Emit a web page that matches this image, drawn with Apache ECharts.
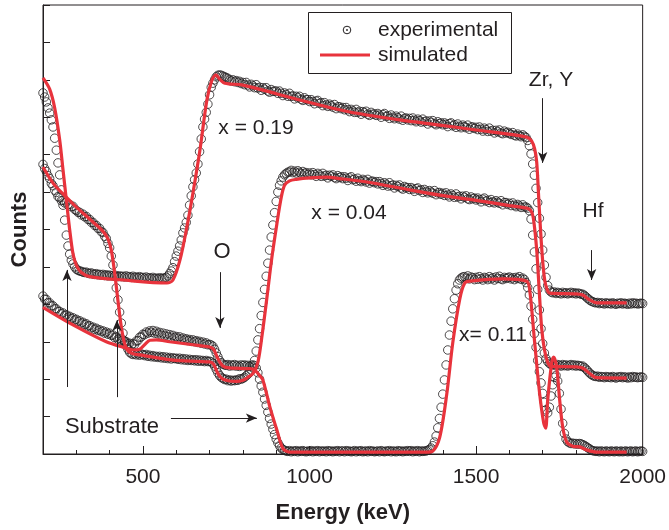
<!DOCTYPE html>
<html>
<head>
<meta charset="utf-8">
<script src="https://cdn.jsdelivr.net/npm/echarts@6/dist/echarts.min.js"></script>
<style>
  html, body { margin: 0; padding: 0; background: #fff; }
  #chart { width: 669px; height: 530px; }
</style>
</head>
<body>
<div id="chart"></div>
<script>
// energy channels: 200 keV to 2000 keV, 5 keV each
const channelStart = 200;
const channelStep = 5;
const xMajorTicks = [500, 1000, 1500, 2000];

// experimental counts (arbitrary units, offset per sample), one value per channel
const exp019 = [
  9.65, 9.54, 9.41, 9.25, 9.11, 8.93, 8.74, 8.44, 8.12, 7.78, 7.46, 7.06, 6.65, 6.25, 5.85, 5.56, 5.34, 5.18, 5.08, 5.00,
  4.94, 4.91, 4.89, 4.88, 4.86, 4.85, 4.86, 4.83, 4.82, 4.84, 4.81, 4.80, 4.82, 4.79, 4.80, 4.78, 4.80, 4.77, 4.79, 4.76,
  4.78, 4.76, 4.77, 4.75, 4.77, 4.74, 4.76, 4.74, 4.75, 4.73, 4.76, 4.73, 4.74, 4.72, 4.75, 4.72, 4.73, 4.71, 4.74, 4.71,
  4.72, 4.70, 4.73, 4.70, 4.71, 4.69, 4.72, 4.69, 4.70, 4.68, 4.71, 4.69, 4.70, 4.70, 4.72, 4.76, 4.82, 4.89, 4.98, 5.14,
  5.29, 5.42, 5.56, 5.72, 5.91, 6.04, 6.19, 6.38, 6.65, 6.90, 7.14, 7.33, 7.51, 7.75, 8.08, 8.42, 8.74, 8.95, 9.13, 9.35,
  9.60, 9.80, 9.91, 10.00, 10.08, 10.12, 10.13, 10.12, 10.10, 10.08, 10.06, 10.04, 10.00, 9.97, 10.00, 9.95, 9.98, 9.93, 9.96, 9.90,
  9.93, 9.87, 9.93, 9.86, 9.81, 9.88, 9.84, 9.79, 9.87, 9.78, 9.80, 9.72, 9.79, 9.75, 9.79, 9.70, 9.67, 9.74, 9.69, 9.70,
  9.70, 9.64, 9.70, 9.64, 9.58, 9.65, 9.61, 9.56, 9.64, 9.56, 9.57, 9.49, 9.56, 9.52, 9.56, 9.48, 9.45, 9.52, 9.47, 9.47,
  9.42, 9.47, 9.42, 9.36, 9.43, 9.45, 9.37, 9.39, 9.31, 9.39, 9.33, 9.29, 9.35, 9.31, 9.27, 9.34, 9.23, 9.28, 9.28, 9.23,
  9.26, 9.20, 9.26, 9.20, 9.15, 9.21, 9.17, 9.13, 9.21, 9.13, 9.16, 9.08, 9.15, 9.12, 9.16, 9.08, 9.05, 9.13, 9.08, 9.09,
  9.05, 9.10, 9.06, 9.00, 9.07, 9.10, 9.02, 9.04, 8.97, 9.06, 9.00, 8.96, 9.03, 8.99, 8.95, 9.03, 8.92, 8.97, 8.98, 8.93,
  8.97, 8.91, 8.98, 8.92, 8.88, 8.95, 8.91, 8.87, 8.95, 8.88, 8.90, 8.82, 8.90, 8.86, 8.91, 8.83, 8.80, 8.88, 8.83, 8.85,
  8.80, 8.85, 8.81, 8.75, 8.83, 8.85, 8.77, 8.80, 8.73, 8.82, 8.76, 8.72, 8.79, 8.75, 8.72, 8.79, 8.68, 8.74, 8.74, 8.70,
  8.73, 8.67, 8.74, 8.68, 8.63, 8.71, 8.67, 8.62, 8.71, 8.63, 8.65, 8.58, 8.65, 8.61, 8.66, 8.58, 8.56, 8.63, 8.58, 8.60,
  8.57, 8.54, 8.59, 8.52, 8.50, 8.55, 8.51, 8.48, 8.53, 8.49, 8.46, 8.38, 8.24, 8.02, 7.75, 7.45, 7.10, 6.72, 6.30, 5.88,
  5.45, 5.05, 4.72, 4.50, 4.38, 4.33, 4.31, 4.33, 4.29, 4.32, 4.30, 4.28, 4.32, 4.29, 4.31, 4.28, 4.30, 4.32, 4.29, 4.31,
  4.28, 4.30, 4.29, 4.27, 4.27, 4.24, 4.20, 4.16, 4.12, 4.09, 4.07, 4.05, 4.04, 4.05, 4.02, 4.04, 4.03, 4.01, 4.04, 4.02,
  4.03, 4.01, 4.04, 4.02, 4.00, 4.03, 4.02, 4.04, 4.01, 4.03, 4.02, 4.00, 4.03, 4.01, 4.04, 4.02, 4.03, 4.01, 4.02, 4.03, 4.02
];
const exp004 = [
  7.74, 7.63, 7.55, 7.44, 7.36, 7.23, 7.17, 7.05, 6.99, 6.88, 6.85, 6.77, 6.78, 6.71, 6.73, 6.66, 6.67, 6.61, 6.62, 6.54,
  6.51, 6.46, 6.46, 6.39, 6.41, 6.34, 6.35, 6.27, 6.27, 6.19, 6.19, 6.11, 6.11, 6.03, 6.03, 5.94, 5.92, 5.82, 5.76, 5.63,
  5.51, 5.29, 5.05, 4.76, 4.44, 4.12, 3.79, 3.50, 3.23, 3.02, 2.89, 2.80, 2.72, 2.68, 2.66, 2.68, 2.65, 2.68, 2.64, 2.67,
  2.66, 2.63, 2.66, 2.61, 2.64, 2.60, 2.63, 2.59, 2.61, 2.58, 2.61, 2.57, 2.60, 2.56, 2.59, 2.55, 2.58, 2.54, 2.57, 2.55,
  2.56, 2.53, 2.56, 2.52, 2.55, 2.51, 2.54, 2.50, 2.53, 2.50, 2.52, 2.49, 2.52, 2.48, 2.51, 2.48, 2.50, 2.47, 2.50, 2.47,
  2.48, 2.46, 2.42, 2.35, 2.26, 2.17, 2.10, 2.05, 2.02, 1.99, 2.00, 1.96, 1.98, 1.95, 1.97, 1.96, 1.98, 1.97, 2.01, 2.00,
  2.02, 2.05, 2.09, 2.13, 2.18, 2.24, 2.32, 2.50, 2.75, 3.05, 3.35, 3.70, 4.05, 4.40, 4.75, 5.10, 5.45, 5.80, 6.12, 6.45,
  6.75, 7.00, 7.18, 7.30, 7.40, 7.46, 7.50, 7.53, 7.54, 7.58, 7.52, 7.56, 7.51, 7.57, 7.53, 7.49, 7.55, 7.50, 7.52, 7.47,
  7.51, 7.46, 7.52, 7.47, 7.42, 7.50, 7.46, 7.42, 7.50, 7.43, 7.45, 7.38, 7.45, 7.42, 7.46, 7.39, 7.36, 7.44, 7.39, 7.41,
  7.36, 7.41, 7.37, 7.31, 7.38, 7.41, 7.33, 7.35, 7.29, 7.37, 7.31, 7.28, 7.34, 7.31, 7.27, 7.34, 7.24, 7.29, 7.29, 7.25,
  7.28, 7.22, 7.28, 7.23, 7.18, 7.25, 7.21, 7.16, 7.25, 7.17, 7.19, 7.11, 7.18, 7.15, 7.19, 7.11, 7.08, 7.15, 7.11, 7.12,
  7.07, 7.12, 7.08, 7.02, 7.09, 7.11, 7.04, 7.06, 6.99, 7.07, 7.02, 6.98, 7.04, 7.00, 6.97, 7.04, 6.93, 6.98, 6.99, 6.94,
  6.97, 6.91, 6.98, 6.92, 6.87, 6.95, 6.91, 6.86, 6.95, 6.87, 6.89, 6.82, 6.89, 6.86, 6.90, 6.82, 6.80, 6.87, 6.82, 6.84,
  6.79, 6.84, 6.80, 6.74, 6.81, 6.84, 6.76, 6.78, 6.72, 6.80, 6.74, 6.71, 6.77, 6.73, 6.70, 6.77, 6.66, 6.72, 6.72, 6.67,
  6.70, 6.64, 6.71, 6.65, 6.61, 6.67, 6.63, 6.59, 6.66, 6.60, 6.60, 6.57, 6.50, 6.28, 5.85, 5.40, 4.95, 4.40, 3.85, 3.35,
  2.95, 2.70, 2.55, 2.47, 2.42, 2.39, 2.38, 2.40, 2.36, 2.39, 2.37, 2.35, 2.39, 2.36, 2.38, 2.35, 2.37, 2.39, 2.36, 2.38,
  2.35, 2.37, 2.36, 2.34, 2.35, 2.31, 2.27, 2.22, 2.17, 2.13, 2.10, 2.08, 2.07, 2.08, 2.05, 2.07, 2.06, 2.04, 2.07, 2.05,
  2.06, 2.04, 2.07, 2.05, 2.03, 2.06, 2.05, 2.07, 2.04, 2.06, 2.05, 2.03, 2.06, 2.04, 2.07, 2.05, 2.06, 2.04, 2.05, 2.06, 2.05
];
const exp011 = [
  4.22, 4.14, 4.13, 4.04, 4.04, 3.96, 3.96, 3.88, 3.88, 3.81, 3.81, 3.75, 3.77, 3.70, 3.72, 3.66, 3.68, 3.62, 3.64, 3.58,
  3.60, 3.54, 3.56, 3.50, 3.52, 3.46, 3.48, 3.42, 3.43, 3.37, 3.39, 3.33, 3.36, 3.30, 3.32, 3.27, 3.29, 3.23, 3.26, 3.20,
  3.23, 3.17, 3.18, 3.11, 3.13, 3.07, 3.09, 3.03, 3.05, 2.99, 3.00, 2.94, 2.96, 2.91, 2.95, 2.93, 3.02, 3.03, 3.12, 3.13,
  3.20, 3.19, 3.26, 3.23, 3.29, 3.25, 3.30, 3.23, 3.28, 3.21, 3.25, 3.18, 3.23, 3.16, 3.21, 3.14, 3.19, 3.12, 3.17, 3.11,
  3.14, 3.09, 3.13, 3.07, 3.10, 3.05, 3.08, 3.03, 3.06, 3.01, 3.05, 3.00, 3.03, 2.98, 3.01, 2.96, 2.99, 2.94, 2.97, 2.92,
  2.93, 2.91, 2.88, 2.80, 2.70, 2.60, 2.50, 2.44, 2.40, 2.38, 2.37, 2.39, 2.35, 2.38, 2.36, 2.39, 2.35, 2.37, 2.34, 2.38,
  2.36, 2.38, 2.35, 2.37, 2.34, 2.37, 2.38, 2.36, 2.30, 2.17, 2.00, 1.82, 1.65, 1.47, 1.30, 1.12, 0.95, 0.80, 0.66, 0.52,
  0.40, 0.30, 0.22, 0.16, 0.12, 0.10, 0.08, 0.07, 0.09, 0.06, 0.08, 0.07, 0.09, 0.06, 0.08, 0.07, 0.09, 0.07, 0.06, 0.08,
  0.07, 0.09, 0.06, 0.08, 0.07, 0.09, 0.06, 0.08, 0.07, 0.08, 0.06, 0.09, 0.07, 0.08, 0.06, 0.08, 0.07, 0.09, 0.06, 0.08,
  0.08, 0.06, 0.09, 0.07, 0.08, 0.06, 0.07, 0.09, 0.06, 0.08, 0.07, 0.09, 0.06, 0.07, 0.08, 0.06, 0.09, 0.07, 0.08, 0.06,
  0.07, 0.08, 0.06, 0.09, 0.07, 0.06, 0.08, 0.07, 0.09, 0.06, 0.08, 0.07, 0.06, 0.09, 0.07, 0.08, 0.06, 0.08, 0.07, 0.09,
  0.07, 0.09, 0.06, 0.08, 0.07, 0.09, 0.06, 0.08, 0.07, 0.08, 0.08, 0.10, 0.12, 0.16, 0.22, 0.32, 0.48, 0.70, 0.95, 1.25,
  1.60, 1.98, 2.38, 2.78, 3.18, 3.55, 3.88, 4.15, 4.38, 4.55, 4.65, 4.70, 4.73, 4.74, 4.70, 4.76, 4.68, 4.73, 4.71, 4.66,
  4.72, 4.67, 4.74, 4.69, 4.65, 4.72, 4.70, 4.66, 4.74, 4.68, 4.71, 4.65, 4.73, 4.69, 4.75, 4.68, 4.66, 4.72, 4.69, 4.71,
  4.73, 4.68, 4.71, 4.66, 4.72, 4.69, 4.74, 4.67, 4.70, 4.66, 4.58, 4.45, 4.25, 3.95, 3.60, 3.22, 2.85, 2.50, 2.20, 1.90,
  1.62, 1.38, 1.18, 1.10, 1.25, 1.55, 1.85, 2.05, 2.10, 1.95, 1.62, 1.20, 0.82, 0.55, 0.40, 0.33, 0.30, 0.28, 0.29, 0.27,
  0.28, 0.26, 0.28, 0.27, 0.25, 0.23, 0.20, 0.17, 0.14, 0.11, 0.09, 0.08, 0.07, 0.08, 0.06, 0.08, 0.07, 0.06, 0.08, 0.07,
  0.06, 0.08, 0.07, 0.06, 0.08, 0.07, 0.06, 0.08, 0.06, 0.07, 0.08, 0.06, 0.07, 0.08, 0.06, 0.07, 0.08, 0.06, 0.07, 0.08, 0.07
];

// simulated spectra, [energy keV, counts]
const sim019 = [
  [200, 10.05], [220, 9.75], [235, 9.25], [250, 8.40], [260, 7.60], [270, 6.80], [280, 6.00], [290, 5.35],
  [300, 5.05], [315, 4.85], [340, 4.74], [440, 4.65], [572, 4.57], [590, 4.65], [611, 5.18], [632, 6.07],
  [650, 6.97], [671, 8.12], [692, 9.46], [707, 9.99], [719, 10.13], [730, 10.02], [746, 9.91], [800, 9.86],
  [900, 9.63], [971, 9.46], [1121, 9.14], [1271, 8.93], [1391, 8.79], [1500, 8.66], [1652, 8.47], [1667, 8.36],
  [1676, 8.15], [1682, 7.80], [1688, 6.85], [1694, 5.91], [1700, 5.15], [1706, 4.65], [1713, 4.40], [1721, 4.30],
  [1800, 4.28], [1820, 4.25], [1841, 4.12], [1862, 4.04], [1952, 4.04]
];
const sim004 = [
  [200, 7.67], [230, 7.24], [260, 6.95], [300, 6.60], [350, 6.20], [380, 5.95], [395, 5.75], [405, 5.45],
  [415, 4.85], [425, 4.10], [435, 3.40], [445, 2.95], [455, 2.75], [470, 2.68], [491, 2.65], [590, 2.51],
  [700, 2.46], [712, 2.40], [725, 2.15], [740, 2.00], [760, 1.95], [780, 1.94], [800, 1.97], [815, 2.05],
  [830, 2.15], [845, 2.45], [858, 3.20], [872, 4.17], [887, 5.25], [902, 6.15], [915, 6.85], [925, 7.18],
  [940, 7.30], [960, 7.34], [1000, 7.38], [1052, 7.40], [1100, 7.35], [1172, 7.27], [1300, 7.06], [1391, 6.92],
  [1500, 6.78], [1600, 6.64], [1652, 6.57], [1665, 6.50], [1672, 6.30], [1682, 5.45], [1690, 4.30], [1697, 3.35],
  [1705, 2.80], [1715, 2.45], [1725, 2.34], [1800, 2.33], [1820, 2.30], [1841, 2.15], [1862, 2.04], [1952, 2.03]
];
const sim011 = [
  [200, 3.92], [290, 3.45], [390, 3.00], [450, 2.83], [470, 2.78], [490, 2.80], [505, 2.92], [521, 3.04],
  [540, 3.05], [580, 3.00], [650, 2.92], [700, 2.86], [712, 2.80], [725, 2.55], [740, 2.35], [760, 2.30],
  [820, 2.28], [835, 2.25], [850, 2.10], [860, 1.98], [881, 1.26], [902, 0.64], [920, 0.15], [940, 0.05],
  [1350, 0.05], [1370, 0.08], [1391, 0.45], [1412, 1.60], [1430, 2.97], [1451, 4.14], [1466, 4.57], [1481, 4.62],
  [1580, 4.68], [1652, 4.62], [1661, 4.38], [1676, 2.97], [1691, 1.60], [1703, 0.83], [1709, 0.69], [1715, 1.44],
  [1727, 2.43], [1733, 2.59], [1742, 2.32], [1751, 1.44], [1760, 0.72], [1772, 0.32], [1790, 0.21], [1811, 0.19],
  [1832, 0.11], [1862, 0.05], [1952, 0.05]
];

const ink = '#231f20';
const red = '#e8333c';
const font = '"Liberation Sans", Arial, sans-serif';

function toPoints(values) {
  return values.map((v, i) => [channelStart + i * channelStep, v]);
}

function expSeries(name, values) {
  return {
    name: name,
    type: 'scatter',
    data: toPoints(values),
    symbol: 'circle',
    symbolSize: 8.5,
    itemStyle: { color: 'rgba(0,0,0,0)', borderColor: ink, borderWidth: 1 },
    silent: true,
    z: 2
  };
}

function simSeries(name, points) {
  return {
    name: name,
    type: 'line',
    data: points,
    showSymbol: false,
    smooth: 0.3,
    lineStyle: { color: red, width: 3.2 },
    silent: true,
    z: 3
  };
}

// arrows for the edge labels, in data coordinates
const arrows = [
  [[731, 4.86], [731, 3.37]],
  [[1700, 9.51], [1700, 7.78]],
  [[1847, 5.45], [1847, 4.65]],
  [[272, 1.79], [272, 4.92]],
  [[422, 1.52], [422, 3.58]],
  [[584, 0.96], [842, 0.96]]
];

const chart = echarts.init(document.getElementById('chart'));
const sim011Series = simSeries('sim 0.11', sim011);
sim011Series.markLine = {
  silent: true,
  symbol: ['none', 'arrow'],
  symbolSize: [7, 11],
  label: { show: false },
  lineStyle: { color: ink, width: 1, type: 'solid' },
  emphasis: { disabled: true },
  data: arrows.map(a => [{ coord: a[0] }, { coord: a[1] }])
};

function label(text, x, y, size) {
  return {
    type: 'text', x: x, y: y, z: 10,
    style: { text: text, fill: ink, font: (size || 21) + 'px ' + font, align: 'center', verticalAlign: 'middle' }
  };
}

chart.setOption({
  animation: false,
  textStyle: { fontFamily: font, color: ink },
  grid: { left: 43, right: 26, top: 5, bottom: 76, show: true, borderColor: ink, borderWidth: 1 },
  xAxis: [
    {
      type: 'value', min: 200, max: 2000, interval: 100, position: 'bottom',
      axisLine: { show: true, lineStyle: { color: ink, width: 1 } },
      axisTick: { show: true, inside: true, length: 4, lineStyle: { color: ink } },
      axisLabel: { customValues: xMajorTicks, fontSize: 21, color: ink, margin: 13, formatter: v => String(v) },
      splitLine: { show: false },
      name: 'Energy (keV)', nameLocation: 'middle', nameGap: 48,
      nameTextStyle: { fontSize: 22, fontWeight: 'bold', color: ink }
    },
    {
      type: 'value', min: 200, max: 2000, position: 'bottom',
      axisLine: { show: false },
      axisTick: { show: true, inside: true, length: 8, customValues: xMajorTicks, lineStyle: { color: ink } },
      axisLabel: { show: false },
      splitLine: { show: false }
    }
  ],
  yAxis: {
    type: 'value', min: 0, max: 12, interval: 1,
    axisLine: { show: true, lineStyle: { color: ink, width: 1 } },
    axisTick: { show: true, inside: true, length: 7, lineStyle: { color: ink } },
    axisLabel: { show: false },
    splitLine: { show: false },
    name: 'Counts', nameLocation: 'middle', nameGap: 12,
    nameTextStyle: { fontSize: 22, fontWeight: 'bold', color: ink }
  },
  series: [
    expSeries('exp 0.19', exp019),
    expSeries('exp 0.04', exp004),
    expSeries('exp 0.11', exp011),
    simSeries('sim 0.19', sim019),
    simSeries('sim 0.04', sim004),
    sim011Series
  ],
  graphic: [
    {
      type: 'rect', z: 9,
      shape: { x: 308.5, y: 12.5, width: 203, height: 61 },
      style: { fill: '#fff', stroke: ink, lineWidth: 1 }
    },
    { type: 'circle', z: 10, shape: { cx: 347, cy: 30, r: 3.8 }, style: { fill: 'none', stroke: ink, lineWidth: 1 } },
    { type: 'circle', z: 10, shape: { cx: 347, cy: 30, r: 0.9 }, style: { fill: ink } },
    { type: 'line', z: 10, shape: { x1: 320, y1: 55, x2: 370, y2: 55 }, style: { stroke: red, lineWidth: 3 } },
    {
      type: 'text', x: 378, y: 30, z: 10,
      style: { text: 'experimental', fill: ink, font: '21px ' + font, verticalAlign: 'middle' }
    },
    {
      type: 'text', x: 378, y: 55, z: 10,
      style: { text: 'simulated', fill: ink, font: '21px ' + font, verticalAlign: 'middle' }
    },
    label('x = 0.19', 256, 128),
    label('x = 0.04', 349, 213),
    label('x= 0.11', 493, 335),
    label('O', 222, 252, 22),
    label('Zr, Y', 551, 80),
    label('Hf', 593, 211),
    label('Substrate', 112, 427, 22)
  ]
});
</script>
</body>
</html>
